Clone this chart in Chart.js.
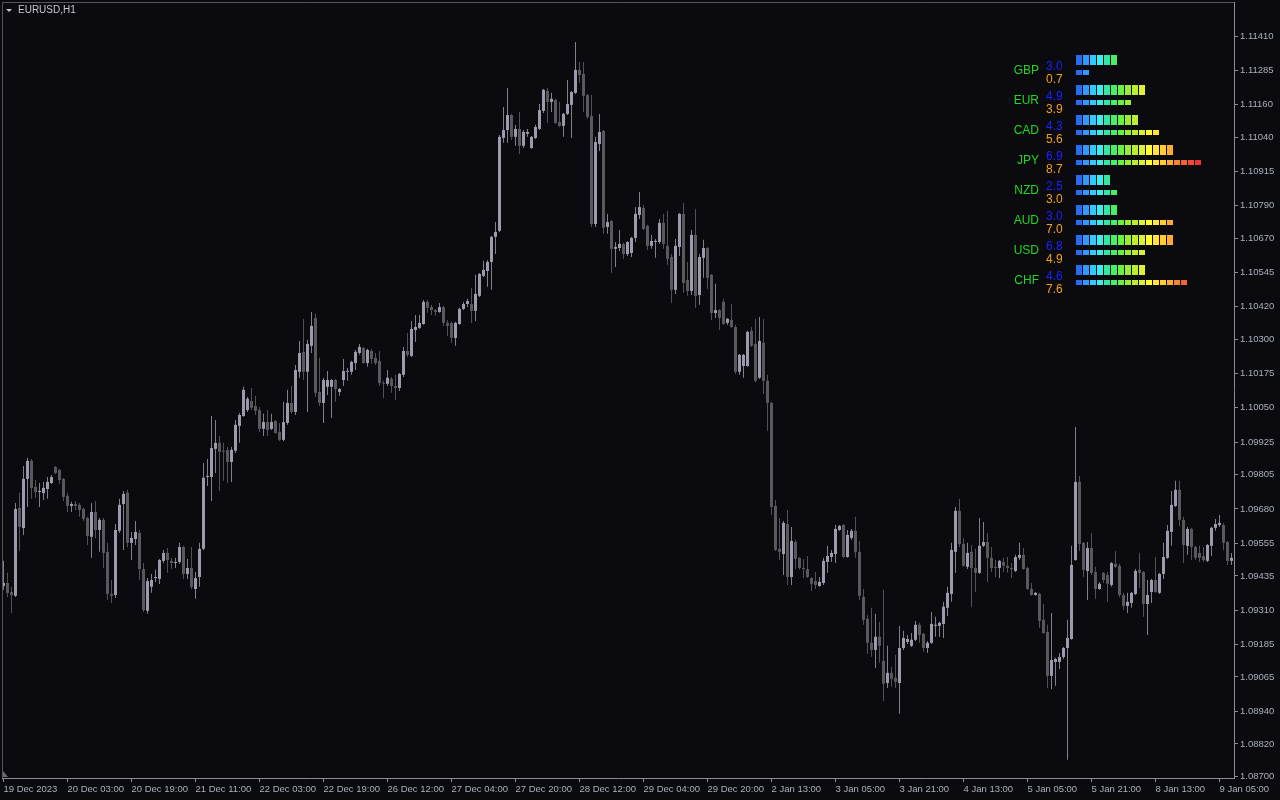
<!DOCTYPE html>
<html>
<head>
<meta charset="utf-8">
<title>EURUSD,H1</title>
<script src="https://cdn.jsdelivr.net/npm/chart.js@4.4.1/dist/chart.umd.min.js"></script>
<style>
  html, body { margin: 0; padding: 0; background: #0a0a0f; overflow: hidden; }
  #wrap { position: relative; width: 1280px; height: 800px; }
  #price-chart { position: absolute; left: 0; top: 0; }
  #strength-chart { position: absolute; left: 1000px; top: 45px; }
</style>
</head>
<body>
<div id="wrap">
  <canvas id="price-chart" width="1280" height="800"></canvas>
  <canvas id="strength-chart" width="220" height="260"></canvas>
</div>
<script>
// EURUSD H1 bars, 19 Dec 2023 .. 9 Jan 2024
const opens = [
  1.09398, 1.09409, 1.09376, 1.09362, 1.09684, 1.09610, 1.09790, 1.09856, 1.09761, 1.09742,
  1.09738, 1.09753, 1.09775, 1.09834, 1.09823, 1.09790, 1.09728, 1.09691, 1.09698, 1.09695,
  1.09680, 1.09647, 1.09578, 1.09669, 1.09603, 1.09640, 1.09523, 1.09369, 1.09365, 1.09600,
  1.09698, 1.09739, 1.09556, 1.09570, 1.09592, 1.09460, 1.09307, 1.09395, 1.09427, 1.09424,
  1.09490, 1.09519, 1.09490, 1.09482, 1.09486, 1.09541, 1.09442, 1.09464, 1.09387, 1.09431,
  1.09534, 1.09797, 1.09797, 1.09900, 1.09922, 1.09893, 1.09896, 1.09852, 1.09893, 1.09984,
  1.10020, 1.10042, 1.10075, 1.10057, 1.10042, 1.09973, 1.09998, 1.09973, 1.10002, 1.09962,
  1.09933, 1.09995, 1.10068, 1.10035, 1.10182, 1.10255, 1.10182, 1.10277, 1.10379, 1.10108,
  1.10068, 1.10127, 1.10127, 1.10152, 1.10108, 1.10152, 1.10182, 1.10182, 1.10214, 1.10251,
  1.10269, 1.10214, 1.10258, 1.10233, 1.10222, 1.10141, 1.10138, 1.10156, 1.10130, 1.10123,
  1.10171, 1.10258, 1.10240, 1.10335, 1.10343, 1.10357, 1.10438, 1.10419, 1.10408, 1.10401,
  1.10419, 1.10361, 1.10361, 1.10306, 1.10357, 1.10412, 1.10430, 1.10430, 1.10405, 1.10460,
  1.10533, 1.10551, 1.10584, 1.10676, 1.10698, 1.11038, 1.11067, 1.11122, 1.11042, 1.11071,
  1.11009, 1.11053, 1.11001, 1.11038, 1.11071, 1.11137, 1.11210, 1.11170, 1.11177, 1.11096,
  1.11082, 1.11126, 1.11159, 1.11203, 1.11287, 1.11272, 1.11195, 1.11118, 1.10723, 1.11016,
  1.11064, 1.10712, 1.10734, 1.10632, 1.10635, 1.10650, 1.10613, 1.10617, 1.10672, 1.10756,
  1.10782, 1.10716, 1.10643, 1.10657, 1.10657, 1.10727, 1.10643, 1.10602, 1.10482, 1.10639,
  1.10760, 1.10518, 1.10478, 1.10683, 1.10463, 1.10599, 1.10635, 1.10537, 1.10397, 1.10408,
  1.10438, 1.10361, 1.10372, 1.10346, 1.10182, 1.10203, 1.10203, 1.10332, 1.10284, 1.10160,
  1.10288, 1.10149, 1.10068, 1.09691, 1.09534, 1.09515, 1.09625, 1.09431, 1.09559, 1.09501,
  1.09464, 1.09460, 1.09427, 1.09416, 1.09398, 1.09409, 1.09486, 1.09504, 1.09515, 1.09603,
  1.09621, 1.09504, 1.09574, 1.09600, 1.09523, 1.09358, 1.09278, 1.09190, 1.09164, 1.09212,
  1.09124, 1.09043, 1.09080, 1.09062, 1.09043, 1.09171, 1.09193, 1.09179, 1.09201, 1.09256,
  1.09223, 1.09171, 1.09190, 1.09252, 1.09252, 1.09259, 1.09318, 1.09369, 1.09523, 1.09673,
  1.09552, 1.09468, 1.09523, 1.09464, 1.09446, 1.09545, 1.09559, 1.09501, 1.09468, 1.09464,
  1.09486, 1.09472, 1.09464, 1.09453, 1.09501, 1.09512, 1.09464, 1.09387, 1.09365, 1.09369,
  1.09274, 1.09230, 1.09069, 1.09120, 1.09120, 1.09138, 1.09171, 1.09204, 1.09493, 1.09779,
  1.09556, 1.09453, 1.09537, 1.09449, 1.09387, 1.09446, 1.09438, 1.09402, 1.09479, 1.09472,
  1.09365, 1.09325, 1.09336, 1.09369, 1.09457, 1.09449, 1.09332, 1.09376, 1.09420, 1.09373,
  1.09442, 1.09501, 1.09596, 1.09691, 1.09750, 1.09640, 1.09545, 1.09607, 1.09541, 1.09519,
  1.09508, 1.09490, 1.09545, 1.09611, 1.09621, 1.09621, 1.09559, 1.09490
];
const highs = [
  1.09490, 1.09446, 1.09395, 1.09702, 1.09739, 1.09837, 1.09867, 1.09863, 1.09786, 1.09775,
  1.09779, 1.09797, 1.09804, 1.09837, 1.09827, 1.09793, 1.09739, 1.09706, 1.09709, 1.09702,
  1.09684, 1.09651, 1.09702, 1.09709, 1.09647, 1.09647, 1.09556, 1.09420, 1.09625, 1.09717,
  1.09746, 1.09750, 1.09596, 1.09636, 1.09603, 1.09482, 1.09427, 1.09442, 1.09457, 1.09497,
  1.09530, 1.09537, 1.09501, 1.09501, 1.09556, 1.09545, 1.09497, 1.09541, 1.09449, 1.09556,
  1.09848, 1.09863, 1.10020, 1.10006, 1.09947, 1.09922, 1.09907, 1.09907, 1.10006, 1.10031,
  1.10127, 1.10090, 1.10123, 1.10094, 1.10053, 1.10028, 1.10042, 1.10028, 1.10006, 1.09995,
  1.10071, 1.10116, 1.10130, 1.10207, 1.10295, 1.10375, 1.10299, 1.10401, 1.10394, 1.10233,
  1.10160, 1.10185, 1.10156, 1.10156, 1.10123, 1.10229, 1.10196, 1.10222, 1.10262, 1.10284,
  1.10273, 1.10266, 1.10266, 1.10251, 1.10258, 1.10149, 1.10189, 1.10163, 1.10171, 1.10178,
  1.10273, 1.10324, 1.10368, 1.10390, 1.10390, 1.10445, 1.10445, 1.10427, 1.10412, 1.10434,
  1.10423, 1.10372, 1.10365, 1.10365, 1.10416, 1.10438, 1.10449, 1.10489, 1.10537, 1.10544,
  1.10588, 1.10591, 1.10679, 1.10730, 1.11049, 1.11151, 1.11221, 1.11126, 1.11086, 1.11133,
  1.11067, 1.11071, 1.11045, 1.11086, 1.11162, 1.11217, 1.11221, 1.11203, 1.11181, 1.11170,
  1.11129, 1.11250, 1.11210, 1.11389, 1.11316, 1.11316, 1.11199, 1.11195, 1.11042, 1.11126,
  1.11067, 1.10760, 1.10738, 1.10657, 1.10701, 1.10654, 1.10661, 1.10676, 1.10785, 1.10840,
  1.10793, 1.10720, 1.10683, 1.10668, 1.10741, 1.10760, 1.10771, 1.10613, 1.10668, 1.10763,
  1.10800, 1.10584, 1.10701, 1.10778, 1.10613, 1.10665, 1.10639, 1.10540, 1.10504, 1.10412,
  1.10449, 1.10379, 1.10430, 1.10354, 1.10247, 1.10247, 1.10332, 1.10346, 1.10375, 1.10383,
  1.10375, 1.10171, 1.10071, 1.09713, 1.09647, 1.09636, 1.09676, 1.09614, 1.09567, 1.09504,
  1.09497, 1.09508, 1.09431, 1.09449, 1.09431, 1.09501, 1.09545, 1.09530, 1.09621, 1.09621,
  1.09625, 1.09603, 1.09607, 1.09651, 1.09563, 1.09387, 1.09292, 1.09318, 1.09296, 1.09267,
  1.09384, 1.09179, 1.09102, 1.09146, 1.09252, 1.09234, 1.09219, 1.09226, 1.09270, 1.09263,
  1.09226, 1.09197, 1.09303, 1.09285, 1.09267, 1.09340, 1.09395, 1.09556, 1.09687, 1.09717,
  1.09574, 1.09556, 1.09548, 1.09534, 1.09647, 1.09632, 1.09592, 1.09541, 1.09493, 1.09493,
  1.09501, 1.09504, 1.09482, 1.09512, 1.09556, 1.09537, 1.09468, 1.09409, 1.09376, 1.09373,
  1.09332, 1.09256, 1.09299, 1.09135, 1.09153, 1.09175, 1.09274, 1.09545, 1.09980, 1.09801,
  1.09559, 1.09559, 1.09592, 1.09468, 1.09413, 1.09449, 1.09449, 1.09486, 1.09526, 1.09479,
  1.09373, 1.09373, 1.09376, 1.09460, 1.09519, 1.09453, 1.09420, 1.09424, 1.09504, 1.09446,
  1.09556, 1.09621, 1.09746, 1.09783, 1.09783, 1.09651, 1.09614, 1.09611, 1.09545, 1.09545,
  1.09541, 1.09552, 1.09614, 1.09643, 1.09658, 1.09629, 1.09563, 1.09519
];
const lows = [
  1.09384, 1.09358, 1.09299, 1.09358, 1.09526, 1.09585, 1.09687, 1.09717, 1.09720, 1.09687,
  1.09713, 1.09717, 1.09771, 1.09808, 1.09771, 1.09709, 1.09669, 1.09669, 1.09676, 1.09651,
  1.09636, 1.09548, 1.09501, 1.09574, 1.09523, 1.09464, 1.09347, 1.09336, 1.09354, 1.09592,
  1.09530, 1.09541, 1.09493, 1.09548, 1.09420, 1.09303, 1.09296, 1.09373, 1.09413, 1.09405,
  1.09482, 1.09446, 1.09460, 1.09464, 1.09479, 1.09424, 1.09424, 1.09387, 1.09351, 1.09395,
  1.09530, 1.09764, 1.09709, 1.09812, 1.09746, 1.09783, 1.09775, 1.09779, 1.09885, 1.09922,
  1.10017, 1.10035, 1.10042, 1.10024, 1.09962, 1.09947, 1.09947, 1.09969, 1.09955, 1.09929,
  1.09929, 1.09988, 1.10028, 1.10024, 1.10160, 1.10152, 1.10035, 1.10251, 1.10090, 1.10057,
  1.09995, 1.10097, 1.10013, 1.10072, 1.10094, 1.10130, 1.10149, 1.10171, 1.10189, 1.10244,
  1.10211, 1.10200, 1.10211, 1.10207, 1.10130, 1.10086, 1.10130, 1.10105, 1.10079, 1.10112,
  1.10163, 1.10236, 1.10236, 1.10291, 1.10339, 1.10354, 1.10398, 1.10390, 1.10387, 1.10398,
  1.10350, 1.10313, 1.10288, 1.10277, 1.10354, 1.10408, 1.10419, 1.10361, 1.10368, 1.10456,
  1.10529, 1.10493, 1.10482, 1.10613, 1.10694, 1.11020, 1.11020, 1.11031, 1.11009, 1.10979,
  1.11001, 1.11042, 1.10998, 1.11034, 1.11067, 1.11129, 1.11093, 1.11133, 1.11089, 1.11078,
  1.11042, 1.11122, 1.11038, 1.11199, 1.11239, 1.11133, 1.11107, 1.10712, 1.10712, 1.10990,
  1.10687, 1.10687, 1.10544, 1.10566, 1.10624, 1.10595, 1.10606, 1.10602, 1.10657, 1.10741,
  1.10701, 1.10628, 1.10632, 1.10599, 1.10650, 1.10632, 1.10573, 1.10434, 1.10467, 1.10606,
  1.10471, 1.10460, 1.10463, 1.10416, 1.10427, 1.10526, 1.10485, 1.10372, 1.10379, 1.10335,
  1.10354, 1.10354, 1.10343, 1.10174, 1.10171, 1.10160, 1.10200, 1.10273, 1.10145, 1.10156,
  1.10101, 1.09966, 1.09658, 1.09526, 1.09493, 1.09438, 1.09402, 1.09402, 1.09460, 1.09457,
  1.09427, 1.09427, 1.09380, 1.09387, 1.09395, 1.09402, 1.09446, 1.09486, 1.09482, 1.09600,
  1.09501, 1.09501, 1.09567, 1.09501, 1.09347, 1.09256, 1.09150, 1.09139, 1.09098, 1.09117,
  1.08977, 1.09025, 1.09029, 1.09025, 1.08930, 1.09164, 1.09186, 1.09175, 1.09197, 1.09190,
  1.09157, 1.09153, 1.09186, 1.09212, 1.09212, 1.09208, 1.09288, 1.09340, 1.09446, 1.09541,
  1.09468, 1.09460, 1.09321, 1.09376, 1.09442, 1.09541, 1.09413, 1.09449, 1.09431, 1.09427,
  1.09449, 1.09446, 1.09427, 1.09449, 1.09493, 1.09457, 1.09384, 1.09362, 1.09362, 1.09245,
  1.09223, 1.09025, 1.09021, 1.09033, 1.09094, 1.09131, 1.08762, 1.09201, 1.09490, 1.09526,
  1.09431, 1.09347, 1.09438, 1.09351, 1.09384, 1.09409, 1.09340, 1.09395, 1.09464, 1.09358,
  1.09310, 1.09299, 1.09318, 1.09365, 1.09391, 1.09285, 1.09219, 1.09336, 1.09373, 1.09369,
  1.09424, 1.09497, 1.09545, 1.09687, 1.09618, 1.09482, 1.09512, 1.09493, 1.09493, 1.09486,
  1.09486, 1.09486, 1.09508, 1.09600, 1.09614, 1.09530, 1.09475, 1.09475
];
const closes = [
  1.09409, 1.09373, 1.09365, 1.09680, 1.09614, 1.09790, 1.09856, 1.09757, 1.09742, 1.09746,
  1.09757, 1.09779, 1.09797, 1.09812, 1.09786, 1.09724, 1.09691, 1.09698, 1.09691, 1.09676,
  1.09643, 1.09581, 1.09669, 1.09603, 1.09640, 1.09519, 1.09369, 1.09362, 1.09603, 1.09695,
  1.09735, 1.09556, 1.09574, 1.09596, 1.09460, 1.09310, 1.09416, 1.09420, 1.09431, 1.09493,
  1.09519, 1.09493, 1.09482, 1.09486, 1.09541, 1.09442, 1.09464, 1.09395, 1.09427, 1.09534,
  1.09794, 1.09801, 1.09903, 1.09922, 1.09889, 1.09889, 1.09852, 1.09896, 1.09988, 1.10024,
  1.10116, 1.10083, 1.10050, 1.10039, 1.09973, 1.09998, 1.09969, 1.09998, 1.09958, 1.09933,
  1.09998, 1.10068, 1.10035, 1.10189, 1.10251, 1.10182, 1.10284, 1.10350, 1.10105, 1.10068,
  1.10152, 1.10152, 1.10152, 1.10119, 1.10119, 1.10185, 1.10185, 1.10218, 1.10255, 1.10273,
  1.10214, 1.10262, 1.10229, 1.10214, 1.10141, 1.10138, 1.10160, 1.10130, 1.10123, 1.10174,
  1.10258, 1.10244, 1.10339, 1.10346, 1.10361, 1.10438, 1.10416, 1.10408, 1.10401, 1.10419,
  1.10361, 1.10350, 1.10306, 1.10361, 1.10412, 1.10430, 1.10441, 1.10405, 1.10467, 1.10540,
  1.10555, 1.10584, 1.10676, 1.10694, 1.11042, 1.11067, 1.11122, 1.11042, 1.11071, 1.11009,
  1.11060, 1.11060, 1.11042, 1.11078, 1.11140, 1.11214, 1.11170, 1.11181, 1.11093, 1.11082,
  1.11126, 1.11162, 1.11206, 1.11287, 1.11268, 1.11192, 1.11115, 1.10723, 1.11023, 1.11060,
  1.10709, 1.10730, 1.10632, 1.10639, 1.10650, 1.10613, 1.10657, 1.10672, 1.10760, 1.10785,
  1.10705, 1.10643, 1.10661, 1.10661, 1.10727, 1.10650, 1.10595, 1.10482, 1.10643, 1.10760,
  1.10507, 1.10478, 1.10683, 1.10460, 1.10602, 1.10635, 1.10526, 1.10397, 1.10408, 1.10379,
  1.10357, 1.10376, 1.10346, 1.10182, 1.10244, 1.10244, 1.10328, 1.10277, 1.10149, 1.10295,
  1.10149, 1.10068, 1.09687, 1.09530, 1.09523, 1.09629, 1.09431, 1.09563, 1.09497, 1.09464,
  1.09460, 1.09431, 1.09406, 1.09402, 1.09413, 1.09490, 1.09508, 1.09519, 1.09607, 1.09618,
  1.09504, 1.09585, 1.09600, 1.09523, 1.09362, 1.09274, 1.09190, 1.09164, 1.09212, 1.09179,
  1.09040, 1.09080, 1.09058, 1.09047, 1.09171, 1.09208, 1.09204, 1.09201, 1.09256, 1.09219,
  1.09171, 1.09190, 1.09259, 1.09256, 1.09263, 1.09322, 1.09373, 1.09530, 1.09673, 1.09552,
  1.09472, 1.09519, 1.09464, 1.09446, 1.09545, 1.09559, 1.09501, 1.09464, 1.09464, 1.09490,
  1.09472, 1.09464, 1.09460, 1.09504, 1.09512, 1.09460, 1.09387, 1.09365, 1.09373, 1.09270,
  1.09226, 1.09069, 1.09127, 1.09131, 1.09138, 1.09171, 1.09208, 1.09475, 1.09779, 1.09552,
  1.09457, 1.09537, 1.09446, 1.09387, 1.09406, 1.09420, 1.09406, 1.09482, 1.09468, 1.09365,
  1.09325, 1.09340, 1.09373, 1.09453, 1.09446, 1.09332, 1.09365, 1.09420, 1.09376, 1.09442,
  1.09504, 1.09600, 1.09695, 1.09750, 1.09640, 1.09548, 1.09607, 1.09541, 1.09501, 1.09501,
  1.09493, 1.09548, 1.09611, 1.09625, 1.09629, 1.09556, 1.09490, 1.09501
];

// axis labels (one time label every 16 bars)
const timeLabels = ['19 Dec 2023', '20 Dec 03:00', '20 Dec 19:00', '21 Dec 11:00', '22 Dec 03:00',
  '22 Dec 19:00', '26 Dec 12:00', '27 Dec 04:00', '27 Dec 20:00', '28 Dec 12:00',
  '29 Dec 04:00', '29 Dec 20:00', '2 Jan 13:00', '3 Jan 05:00', '3 Jan 21:00',
  '4 Jan 13:00', '5 Jan 05:00', '5 Jan 21:00', '8 Jan 13:00', '9 Jan 05:00'];
const priceTicks = [1.11410, 1.11285, 1.11160, 1.11040, 1.10915, 1.10790, 1.10670, 1.10545,
  1.10420, 1.10300, 1.10175, 1.10050, 1.09925, 1.09805, 1.09680, 1.09555, 1.09435,
  1.09310, 1.09185, 1.09065, 1.08940, 1.08820, 1.08700];
const symbolLabel = 'EURUSD,H1';

// currency strength indicator
const currencies = ['GBP', 'EUR', 'CAD', 'JPY', 'NZD', 'AUD', 'USD', 'CHF'];
const strengthNow = [3.0, 4.9, 4.3, 6.9, 2.5, 3.0, 6.8, 4.6];
const strengthPrev = [0.7, 3.9, 5.6, 8.7, 3.0, 7.0, 4.9, 7.6];

const BG = '#0a0a0f';
const AXIS = '#8c8c94';
const TICK_TEXT = '#aab0bc';
const BULL = '#9b9bab';
const BEAR = '#58585e';
const BULL_WICK = '#80808c';
const BEAR_WICK = '#515157';
const blockColors = ['#2a6cf0', '#3399ff', '#33c8ff', '#33f0ee', '#33e6a6', '#44f066',
  '#6af040', '#99ee33', '#bbee33', '#ddf033', '#ffff33', '#ffe433', '#ffcc33',
  '#ffaa33', '#f28633', '#f06633', '#ee4a33', '#ee3333'];

const isBull = i => closes[i] >= opens[i];

//frame + symbol caption
const framePlugin = {
    id: 'frame',
    beforeDraw(chart) {
        const ctx = chart.ctx;
        ctx.save();
        ctx.fillStyle = BG;
        ctx.fillRect(0, 0, chart.width, chart.height);
        ctx.restore();
    },
    afterDraw(chart) {
        const { ctx, chartArea: a } = chart;
        ctx.save();
        ctx.strokeStyle = '#55555c';
        ctx.lineWidth = 1;
        ctx.beginPath();
        ctx.moveTo(a.left + 0.5, a.bottom);
        ctx.lineTo(a.left + 0.5, a.top + 0.5);
        ctx.lineTo(a.right, a.top + 0.5);
        ctx.stroke();

        ctx.fillStyle = '#c4c8d0';
        ctx.beginPath();
        ctx.moveTo(6, 9);
        ctx.lineTo(12, 9);
        ctx.lineTo(9, 12);
        ctx.closePath();
        ctx.fill();
        ctx.font = '10px "Liberation Sans", Arial, sans-serif';
        ctx.textBaseline = 'middle';
        ctx.fillText(symbolLabel, 18, 10.5);

        // shift marker in the bottom-left corner
        ctx.fillStyle = '#6a6a72';
        ctx.beginPath();
        ctx.moveTo(3, 771);
        ctx.lineTo(3, 777);
        ctx.lineTo(8, 777);
        ctx.closePath();
        ctx.fill();
        ctx.restore();
    }
};

const tickFont = { family: '"Liberation Sans", Arial, sans-serif', size: 9.5 };

new Chart(document.getElementById('price-chart'), {
    type: 'bar',
    data: {
        datasets: [{
            // bodies (drawn on top)
            data: opens.map((o, i) => ({ x: i, y: [o, closes[i]] })),
            backgroundColor: ctx => (ctx.dataIndex !== undefined && isBull(ctx.dataIndex)) ? BULL : BEAR,
            barThickness: 3,
            minBarLength: 1,
            grouped: false,
            inflateAmount: 0,
            borderWidth: 0,
        }, {
            // wicks
            data: lows.map((l, i) => ({ x: i, y: [l, highs[i]] })),
            backgroundColor: ctx => (ctx.dataIndex !== undefined && isBull(ctx.dataIndex)) ? BULL_WICK : BEAR_WICK,
            barThickness: 1,
            minBarLength: 1,
            grouped: false,
            inflateAmount: 0,
            borderWidth: 0,
        }]
    },
    options: {
        responsive: false,
        animation: false,
        events: [],
        layout: { padding: { left: 2, top: 2, right: 0, bottom: 0 } },
        scales: {
            x: {
                type: 'linear',
                min: -0.375,
                max: 307.625,
                offset: false,
                afterBuildTicks: scale => {
                    scale.ticks = timeLabels.map((_, j) => ({ value: j * 16 }));
                },
                afterFit: scale => {
                    scale.height = 22;
                    scale.paddingLeft = 0;
                    scale.paddingRight = 0;
                },
                ticks: {
                    autoSkip: false,
                    maxRotation: 0,
                    minRotation: 0,
                    align: 'start',
                    padding: 2,
                    color: TICK_TEXT,
                    font: tickFont,
                    callback: (value, index) => timeLabels[index],
                },
                grid: { display: true, drawOnChartArea: false, drawTicks: true, tickLength: 4, color: AXIS, offset: false },
                border: { display: true, color: AXIS },
            },
            y: {
                position: 'right',
                min: 1.086952,
                max: 1.115355,
                afterBuildTicks: scale => {
                    scale.ticks = priceTicks.map(v => ({ value: v }));
                },
                afterFit: scale => {
                    scale.width = 46;
                    scale.paddingTop = 0;
                    scale.paddingBottom = 0;
                },
                ticks: {
                    autoSkip: false,
                    padding: 2,
                    color: TICK_TEXT,
                    font: tickFont,
                    callback: v => v.toFixed(5),
                },
                grid: { display: true, drawOnChartArea: false, drawTicks: true, tickLength: 4, color: AXIS },
                border: { display: true, color: AXIS },
            }
        },
        plugins: {
            legend: { display: false },
            tooltip: { enabled: false },
        }
    },
    plugins: [framePlugin]
});

//strength panel
const topBlocks = [];
const lowBlocks = [];
currencies.forEach((name, c) => {
    const nTop = Math.ceil(strengthNow[c] * 2 - 1e-9);
    const nLow = Math.ceil(strengthPrev[c] * 2 - 1e-9);
    for (let k = 0; k < nTop; k++) {
        topBlocks.push({ x: [k, k + 6 / 7], y: c, k: k });
    }
    for (let k = 0; k < nLow; k++) {
        lowBlocks.push({ x: [k, k + 6 / 7], y: c + 12.5 / 30, k: k });
    }
});

const strengthLabels = {
    id: 'strengthLabels',
    afterDatasetsDraw(chart) {
        const { ctx, scales: { y } } = chart;
        ctx.save();
        ctx.font = '12px "Liberation Sans", Arial, sans-serif';
        ctx.textBaseline = 'middle';
        currencies.forEach((name, c) => {
            const yTop = y.getPixelForValue(c);
            ctx.textAlign = 'right';
            ctx.fillStyle = '#22d622';
            ctx.fillText(name, 39, yTop + 11);
            ctx.textAlign = 'left';
            ctx.fillStyle = '#1a22ff';
            ctx.fillText(strengthNow[c].toFixed(1), 46, yTop + 7);
            ctx.fillStyle = '#f2a21e';
            ctx.fillText(strengthPrev[c].toFixed(1), 46, yTop + 20);
        });
        ctx.restore();
    }
};

new Chart(document.getElementById('strength-chart'), {
    type: 'bar',
    data: {
        datasets: [{
            data: topBlocks,
            backgroundColor: ctx => ctx.raw ? blockColors[ctx.raw.k] : blockColors[0],
            barThickness: 10,
            grouped: false,
            inflateAmount: 0,
            borderWidth: 0,
        }, {
            data: lowBlocks,
            backgroundColor: ctx => ctx.raw ? blockColors[ctx.raw.k] : blockColors[0],
            barThickness: 5,
            grouped: false,
            inflateAmount: 0,
            borderWidth: 0,
        }]
    },
    options: {
        indexAxis: 'y',
        responsive: false,
        animation: false,
        events: [],
        layout: { padding: { left: 76, right: 4, top: 0, bottom: 0 } },
        scales: {
            x: { type: 'linear', min: 0, max: 20, display: false },
            y: { type: 'linear', min: -0.5, max: 8 + 1 / 6, reverse: true, display: false, offset: false },
        },
        plugins: {
            legend: { display: false },
            tooltip: { enabled: false },
        }
    },
    plugins: [strengthLabels]
});
</script>
</body>
</html>
